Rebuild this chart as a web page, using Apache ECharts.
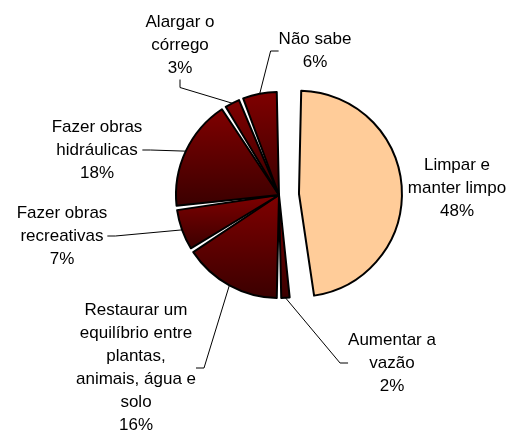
<!DOCTYPE html>
<html>
<head>
<meta charset="utf-8">
<script src="https://cdn.jsdelivr.net/npm/echarts@6/dist/echarts.min.js"></script>
<style>
  html, body { margin: 0; padding: 0; background: #fff; }
  #chart { width: 513px; height: 436px; }
</style>
</head>
<body>
<div id="chart"></div>
<script>
// respostas (sentido horário a partir do topo)
var categorias = [
    'Limpar e\nmanter limpo',
    'Aumentar a\nvazão',
    'Restaurar um\nequilíbrio entre\nplantas,\nanimais, água e\nsolo',
    'Fazer obras\nrecreativas',
    'Fazer obras\nhidráulicas',
    'Alargar o\ncórrego',
    'Não sabe'
];
var percentuais = [48, 2, 16, 7, 18, 3, 6];

// posição (centro) de cada rótulo
var posRotulos = [
    [457, 188],
    [392, 363],
    [136, 368],
    [62, 236],
    [97, 150],
    [180, 45],
    [315, 51]
];

var fonte = 'Liberation Sans, Arial, sans-serif';

var escuro = {
    type: 'linear', x: 0, y: 0, x2: 0, y2: 1,
    colorStops: [
        { offset: 0, color: '#800000' },
        { offset: 1, color: '#3a0000' }
    ]
};

var dados = [];
for (var i = 0; i < categorias.length; i++) {
    var item = {
        name: categorias[i],
        value: percentuais[i],
        selected: i == 0,
        itemStyle: { color: i == 0 ? '#FFCC99' : escuro }
    };
    if (i == 0) {
        // rótulo da fatia destacada vai como texto solto (sem linha), o pie empurra ele pra esquerda
        item.label = { show: false };
        item.labelLine = { show: false };
    }
    dados.push(item);
}

var chart = echarts.init(document.getElementById('chart'), null, { renderer: 'canvas' });
var option = {
    animation: false,
    graphic: [
        {
            type: 'text',
            x: posRotulos[0][0],
            y: posRotulos[0][1],
            style: {
                text: categorias[0] + '\n' + percentuais[0] + '%',
                font: '17px ' + fonte,
                lineHeight: 23,
                fill: '#000',
                align: 'center',
                verticalAlign: 'middle'
            }
        }
    ],
    series: [
        {
            type: 'pie',
            center: [279, 195],
            radius: 103,
            startAngle: 90,
            clockwise: true,
            padAngle: 2.5,
            selectedMode: 'single',
            selectedOffset: 20,
            data: dados,
            itemStyle: {
                borderColor: '#000',
                borderWidth: 2
            },
            label: {
                show: true,
                position: 'outside',
                formatter: '{b}\n{c}%',
                fontFamily: fonte,
                fontSize: 17,
                lineHeight: 23,
                color: '#000',
                align: 'center',
                overflow: 'none'
            },
            labelLine: {
                show: true,
                length: 8,
                length2: 8,
                lineStyle: { color: '#000', width: 1 }
            },
            labelLayout: function (params) {
                var p = posRotulos[params.dataIndex];
                return { x: p[0], y: p[1], align: 'center', verticalAlign: 'middle' };
            },
            emphasis: { disabled: true }
        }
    ]
};
chart.setOption(option);
</script>
</body>
</html>
